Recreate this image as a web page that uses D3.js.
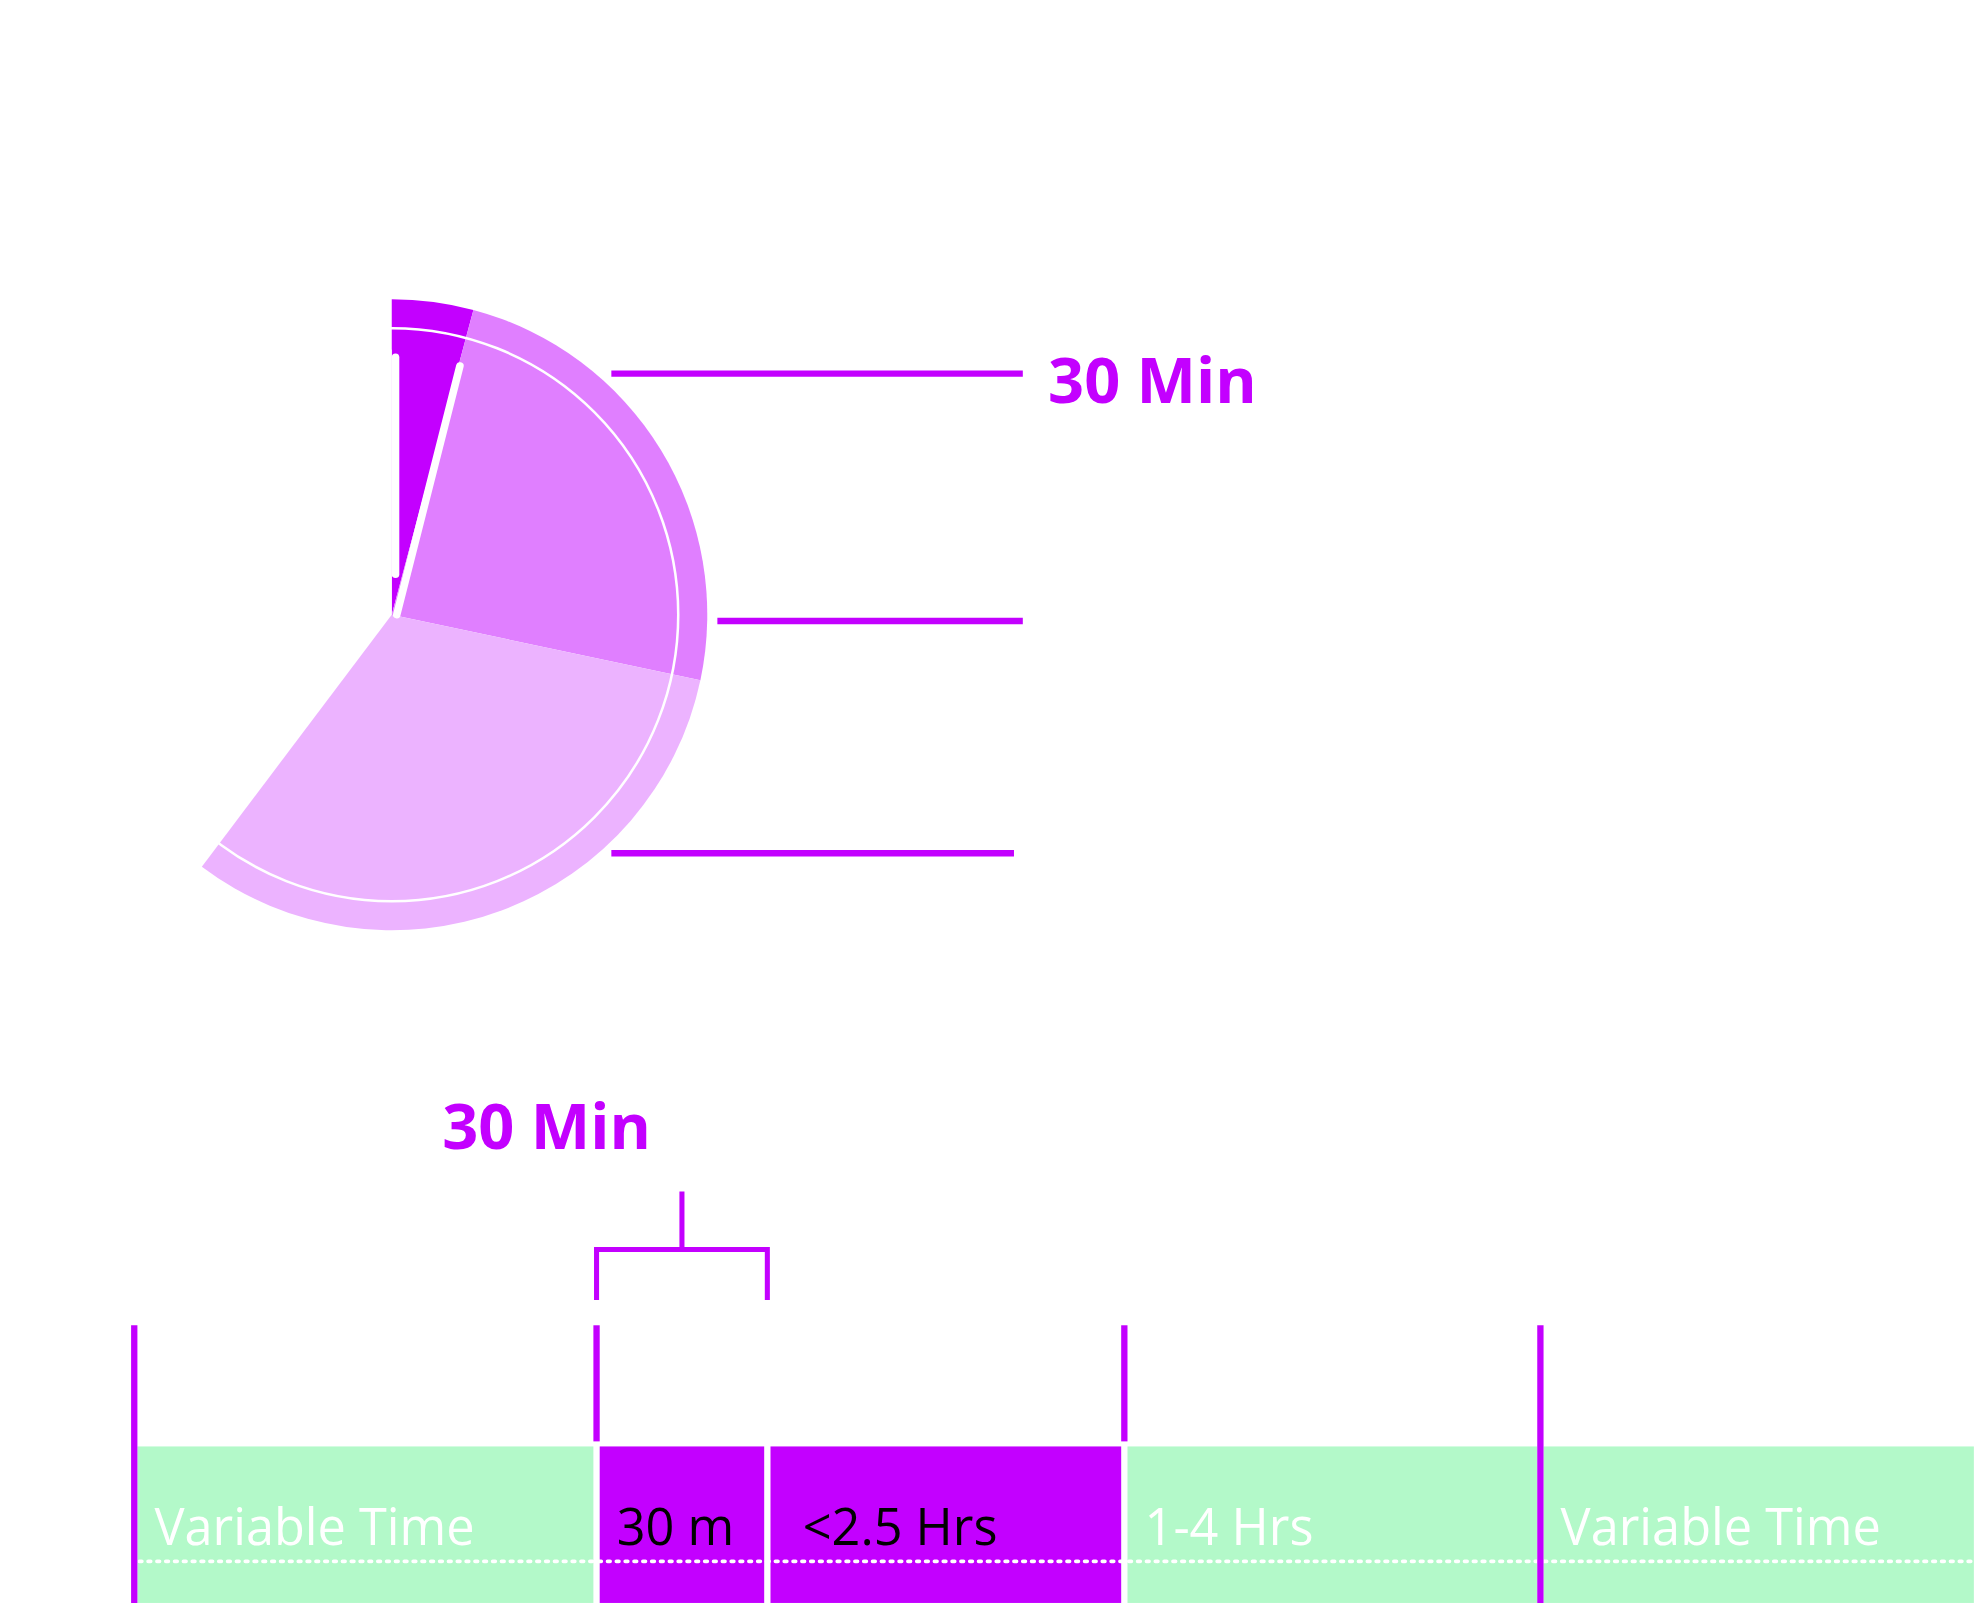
<!DOCTYPE html>
<html><head><meta charset="utf-8">
<script src="https://cdn.jsdelivr.net/npm/d3@7"></script>
<style>body{margin:0;background:#fff}svg{display:block}</style>
</head><body>
<svg id="c" width="1980" height="1608" viewBox="0 0 1568 1274"></svg>
<script>
// pie: minutes on a 12-hour (720 min) dial
const sliceNames = ["30 Min", "Slice 2", "Slice 3"];
const sliceMinutes = [30, 174, 230];
const sliceColors = ["#c300ff", "#e07fff", "#ecb3ff"];
const leaderY = [296, 492, 676];
const leaderX0 = [484, 568, 484];
const leaderX1 = [810, 810, 803];
// timeline
const segLabels = ["Variable Time", "30 m", "<2.5 Hrs", "1-4 Hrs", "Variable Time"];
const segWidths = [360, 133, 278, 324, 340];
const segColors = ["#b3f9c9", "#c300ff", "#c300ff", "#b3f9c9", "#b3f9c9"];
const segText = ["#fff", "#000", "#000", "#fff", "#fff"];
const tickPos = [0, 1, 3, 4]; // segment boundaries with marker lines
const tickLong = [true, false, false, true];

const svg = d3.select("#c");
const P = "#c300ff";
const cx = 310, cy = 487, R = 250;
const ang = d3.scaleLinear().domain([0, 720]).range([0, 2 * Math.PI]);
let acc = 0;
const arcs = sliceMinutes.map((m, i) => { const a = {s: ang(acc), e: ang(acc + m), c: sliceColors[i]}; acc += m; return a; });
const g = svg.append("g").attr("transform", `translate(${cx},${cy})`);
// leader lines (behind)
leaderY.forEach((y, i) => svg.append("line").attr("x1", leaderX0[i]).attr("x2", leaderX1[i]).attr("y1", y).attr("y2", y).attr("stroke", P).attr("stroke-width", 5));
g.selectAll("path.s").data(arcs).join("path")
  .attr("d", d => d3.arc()({innerRadius: 0, outerRadius: R, startAngle: d.s, endAngle: d.e}))
  .attr("fill", d => d.c);
g.append("circle").attr("r", 227).attr("fill", "none").attr("stroke", "#fff").attr("stroke-width", 2);
// hands
g.append("line").attr("x1", 3).attr("y1", -204).attr("x2", 3).attr("y2", -32).attr("stroke", "#fff").attr("stroke-width", 6).attr("stroke-linecap", "round");
g.append("rect").attr("x", -6).attr("y", -210).attr("width", 6).attr("height", 210).attr("fill", "#fff");
g.append("line").attr("x1", 54).attr("y1", -197).attr("x2", 4).attr("y2", 0).attr("stroke", "#fff").attr("stroke-width", 6).attr("stroke-linecap", "round");
svg.append("text").attr("x", 830).attr("y", 319).text(sliceNames[0])
  .attr("font-family", "Open Sans").attr("font-weight", 700).attr("font-size", 50).attr("fill", P);

// timeline
const total = d3.sum(segWidths);
const x = d3.scaleLinear().domain([0, total]).range([106, 1566]);
const bounds = [0, ...d3.cumsum(segWidths)];
const segs = segWidths.map((w, i) => ({a: bounds[i], b: bounds[i + 1], i}));
svg.selectAll("rect.seg").data(segs).join("rect")
  .attr("x", d => x(d.a) + 2.5).attr("width", d => x(d.b) - x(d.a) - 5)
  .attr("y", 1146).attr("height", 124).attr("fill", d => segColors[d.i]);
svg.selectAll("text.seg").data(segs).join("text")
  .attr("x", d => x(d.a) + (d.i === 2 ? 28 : 16)).attr("y", 1224)
  .text(d => segLabels[d.i]).attr("fill", d => segText[d.i])
  .attr("font-family", "Open Sans").attr("font-size", 40);
svg.append("line").attr("x1", 110).attr("x2", 1566).attr("y1", 1237).attr("y2", 1237)
  .attr("stroke", "#fff").attr("stroke-width", 3).attr("stroke-dasharray", "2 5").attr("stroke-linecap", "round");
tickPos.forEach((b, i) => svg.append("line").attr("x1", x(bounds[b])).attr("x2", x(bounds[b]))
  .attr("y1", 1050).attr("y2", tickLong[i] ? 1270 : 1142).attr("stroke", P).attr("stroke-width", 5));
// bracket over the 30 m segment
const bx0 = x(bounds[1]), bx1 = x(bounds[2]), bm = (bx0 + bx1) / 2;
svg.append("path").attr("d", `M${bx0},1030V990H${bx1}V1030M${bm},990V944`)
  .attr("fill", "none").attr("stroke", P).attr("stroke-width", 4);
svg.append("text").attr("x", 350).attr("y", 910).text(sliceNames[0])
  .attr("font-family", "Open Sans").attr("font-weight", 700).attr("font-size", 50).attr("fill", P);
</script>
</body></html>
